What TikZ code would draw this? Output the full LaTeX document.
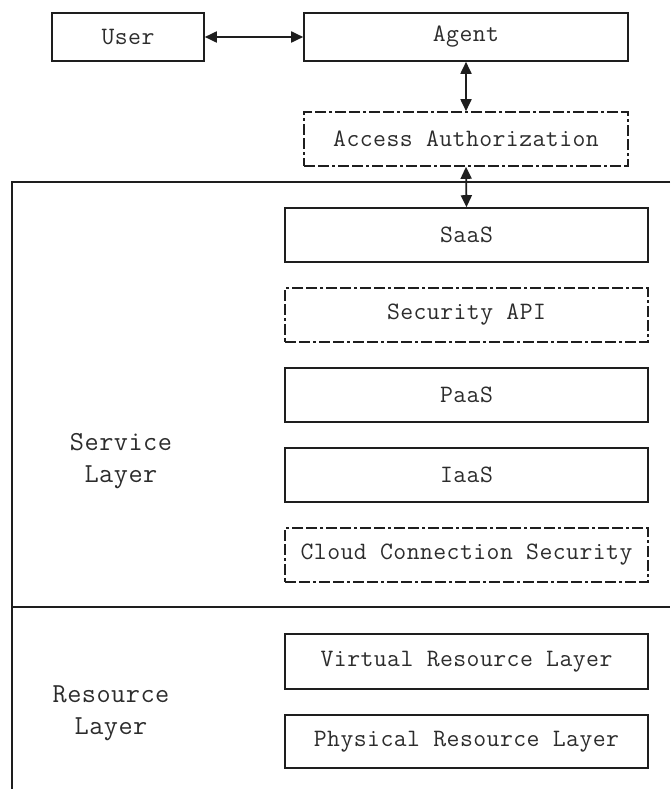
\documentclass[tikz,border=0pt]{standalone}
\usepackage{fontspec}
\setmonofont{Latin Modern Mono}[LetterSpace=1.8]
\usetikzlibrary{arrows.meta}
\definecolor{ink}{HTML}{1E1E1E}
\definecolor{txt}{HTML}{2C2C2C}
\tikzset{
  box/.style={draw=ink, line width=1.6pt, rectangle, inner sep=0pt,
    minimum width=363pt, minimum height=54pt,
    font=\fontsize{25}{30}\selectfont\ttfamily, text=txt},
  dashbox/.style={box, dash pattern=on 11pt off 3pt on 11pt off 3pt on 3pt off 3pt},
  link/.style={draw=ink, line width=1.8pt,
    {Triangle[length=12pt,width=11pt]}-{Triangle[length=12pt,width=11pt]}},
  frame/.style={draw=ink, line width=1.5pt},
  layerlabel/.style={align=center, text=txt,
    font=\fontsize{27.5}{31.5}\selectfont\ttfamily}
}
\begin{document}
\begin{tikzpicture}[x=1pt,y=-1pt]
  \useasboundingbox (0,0) rectangle (670,789);

  % top row: user and agent
  \node[box, minimum width=152pt, minimum height=48pt] (user) at (128,37) {User};
  \node[box, minimum width=324pt, minimum height=48pt] (agent) at (466,37) {Agent};
  \node[dashbox, minimum width=324pt] (auth) at (466,139) {Access Authorization};

  % service layer stack
  \node[box]     (saas)  at (466.5,235) {SaaS};
  \node[dashbox] (secapi) at (466.5,315) {Security API};
  \node[box]     (paas)  at (466.5,395) {PaaS};
  \node[box]     (iaas)  at (466.5,475) {IaaS};
  \node[dashbox] (ccs)   at (466.5,555) {Cloud Connection Security};

  % resource layer stack
  \node[box, minimum height=55pt] (virt) at (466.5,661.5) {Virtual Resource Layer};
  \node[box, minimum height=53pt] (phys) at (466.5,741.5) {Physical Resource Layer};

  % layer frame
  \coordinate (ftl) at (12,182);
  \coordinate (ftr) at (670,182);
  \coordinate (fbl) at (12,789);
  \coordinate (fml) at (12,607);
  \coordinate (fmr) at (670,607);
  \draw[frame] (ftr) -- (ftl) -- (fbl);
  \draw[frame] (fml) -- (fmr);

  \node[layerlabel] (svc) at (121,461) {Service\\Layer};
  \node[layerlabel] (res) at (111,713) {Resource\\Layer};

  % connectors
  \draw[link] (user.east) -- (agent.west);
  \draw[link] (agent.south) -- (auth.north);
  \draw[link] (auth.south) -- (saas.north);
\end{tikzpicture}
\end{document}
